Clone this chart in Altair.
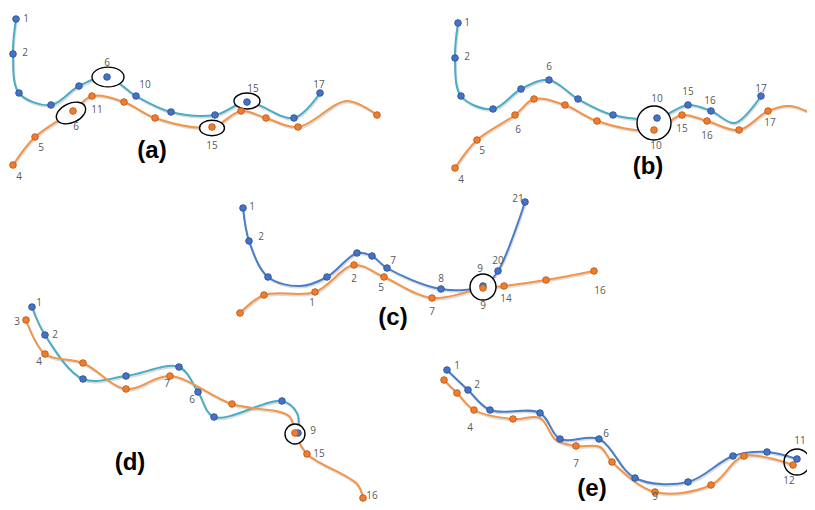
import altair as alt
import pandas as pd

# ---- data: (x, y, marker shown) in page pixels ----
A_BLUE = [(16,19,1),(13,54,1),(19,93,1),(51,105,1),(79,86,1),(107,77,1),(136,96,1),(171,112,1),(215,115,1),(247,102,1),(294,118,1),(320,93,1)]
A_ORANGE = [(13,165,1),(35,137,1),(73,111,1),(92,96,1),(124,102,1),(155,118,1),(212,127,1),(241,111,1),(266,118,1),(298,127,1),(347,101,0),(377,115,1)]
B_BLUE = [(458,23,1),(455,58,1),(461,96,1),(493,109,1),(521,89,1),(549,80,1),(578,99,1),(613,115,1),(657,118,1),(688,105,1),(711,111,1),(735,123,0),(761,96,1)]
B_ORANGE = [(455,168,1),(477,140,1),(515,115,1),(534,99,1),(565,105,1),(597,121,1),(654,130,1),(682,115,1),(707,121,1),(739,130,1),(768,111,1),(790,106,0),(820,118,0)]
C_BLUE = [(243,208,1),(249,241,1),(268,277,1),(300,286,0),(327,277,1),(357,253,1),(372,256,1),(387,268,1),(441,289,1),(483,286,1),(498,271,1),(525,202,1)]
C_ORANGE = [(240,313,1),(264,295,1),(315,292,1),(354,265,1),(384,277,1),(432,298,1),(483,288,1),(504,286,1),(546,280,1),(594,271,1)]
D_BLUE = [(32,307,1),(45,335,1),(83,379,1),(126,376,1),(179,367,1),(198,392,1),(214,417,1),(282,401,1),(297,413,0),(298,433,1)]
D_ORANGE = [(26,320,1),(45,354,1),(83,363,1),(126,389,1),(170,376,1),(232,404,1),(289,416,0),(295,433,1),(307,454,1),(357,484,0),(363,498,1)]
E_BLUE = [(447,370,1),(468,390,1),(490,410,1),(540,413,1),(560,439,1),(599,439,1),(635,478,1),(688,482,1),(733,456,1),(767,452,1),(797,459,1)]
E_ORANGE = [(444,380,1),(457,393,1),(474,410,1),(513,419,1),(540,418,0),(556,440,0),(576,446,1),(600,447,0),(612,462,1),(655,492,1),(711,485,1),(744,456,1),(793,465,1)]

SERIES = [
    ("a_blue", "teal", "blue", A_BLUE), ("a_orange", "orange", "orange", A_ORANGE),
    ("b_blue", "teal", "blue", B_BLUE), ("b_orange", "orange", "orange", B_ORANGE),
    ("c_blue", "steel", "blue", C_BLUE), ("c_orange", "orange", "orange", C_ORANGE),
    ("d_blue", "teal", "blue", D_BLUE), ("d_orange", "orange", "orange", D_ORANGE),
    ("e_blue", "steel", "blue", E_BLUE), ("e_orange", "orange", "orange", E_ORANGE),
]

# point labels: (x, y, text)
LABELS = [
    (26,19,"1"),(25,53,"2"),(107,63,"6"),(145,85,"10"),(253,89,"15"),(319,85,"17"),
    (19,177,"4"),(41,148,"5"),(76,127,"6"),(97,110,"11"),(212,146,"15"),
    (467,23,"1"),(467,57,"2"),(549,67,"6"),(657,99,"10"),(688,92,"15"),(710,101,"16"),(761,89,"17"),
    (461,180,"4"),(482,151,"5"),(518,130,"6"),(656,146,"10"),(682,129,"15"),(707,136,"16"),(770,123,"17"),
    (252,207,"1"),(261,237,"2"),(393,261,"7"),(441,279,"8"),(480,269,"9"),(498,261,"20"),(518,199,"21"),
    (312,303,"1"),(354,279,"2"),(381,288,"5"),(432,312,"7"),(483,306,"9"),(506,299,"14"),(600,291,"16"),
    (39,303,"1"),(55,335,"2"),(192,400,"6"),(313,431,"9"),
    (17,322,"3"),(39,362,"4"),(167,384,"7"),(319,454,"15"),(372,496,"16"),
    (457,366,"1"),(477,385,"2"),(606,434,"6"),(800,441,"11"),
    (470,428,"4"),(576,464,"7"),(789,481,"12"),(655,497,"9"),
]

# panel captions
PANELS = [(152,151,"(a)"),(648,167,"(b)"),(393,318,"(c)"),(130,463,"(d)"),(592,489,"(e)")]

# highlight circles: (x, y, diameter, filled)
CIRCLES = [(654,123,34,1),(483,287,26,1),(295,434,20,1),(797,462,26,0)]
# highlight ellipses: (x, y, major axis, angle)
ELLIPSES = [(108,77,32,0),(247,101,26,0),(212,128,25,0),(71,113,31,335)]

# ---- build tables ----
rows = []
for sid, lc, pc, pts in SERIES:
    for i, (x, y, m) in enumerate(pts):
        rows.append(dict(sid=sid, lc=lc, pc=pc, i=i, x=x, y=y, m=m))
df = pd.DataFrame(rows)
pts_df = df[df.m == 1]
lab_df = pd.DataFrame(LABELS, columns=["x", "y", "t"])
pan_df = pd.DataFrame(PANELS, columns=["x", "y", "t"])
cir_df = pd.DataFrame(CIRCLES, columns=["x", "y", "d", "f"])
cir_df["s"] = cir_df.d ** 2
ell_df = pd.DataFrame(ELLIPSES, columns=["x", "y", "d", "a"])
ell_df["s"] = ell_df.d ** 2

W, H = 799, 494
X = alt.X("x:Q", scale=alt.Scale(domain=[8, 8 + W]), axis=None)
Y = alt.Y("y:Q", scale=alt.Scale(domain=[8, 8 + H], reverse=True), axis=None)

line_color = alt.Color("lc:N", scale=alt.Scale(domain=["teal", "steel", "orange"],
                                               range=["#4BACC6", "#4A7EC8", "#F0954A"]), legend=None)

base = alt.Chart(df)
shadow = base.mark_line(interpolate="catmull-rom", strokeWidth=2.2, color="#9a9a9a",
                        opacity=0.35, yOffset=1.5, xOffset=0.8, clip=True).encode(
    x=X, y=Y, detail="sid:N", order="i:Q")
lines = base.mark_line(interpolate="catmull-rom", strokeWidth=2, clip=True).encode(
    x=X, y=Y, detail="sid:N", order="i:Q", color=line_color)

circ = alt.Chart(cir_df).mark_point(shape="circle", strokeWidth=1.4, stroke="black", opacity=1).encode(
    x=X, y=Y, size=alt.Size("s:Q", scale=None, legend=None),
    fill=alt.Fill("f:N", scale=alt.Scale(domain=[1, 0], range=["white", "transparent"]), legend=None))

ELL_PATH = "M -1 0 A 1 0.62 0 1 0 1 0 A 1 0.62 0 1 0 -1 0 Z"
ell = alt.Chart(ell_df).mark_point(shape=ELL_PATH, strokeWidth=1.4, stroke="black", fill="white",
                                   filled=False, opacity=1).encode(
    x=X, y=Y, size=alt.Size("s:Q", scale=None, legend=None),
    angle=alt.Angle("a:Q", scale=None))

dots = alt.Chart(pts_df).mark_point(shape="circle", filled=True, size=44, strokeWidth=0.9, opacity=1).encode(
    x=X, y=Y,
    fill=alt.Fill("pc:N", scale=alt.Scale(domain=["blue", "orange"], range=["#4472C4", "#ED7D31"]), legend=None),
    stroke=alt.Stroke("pc:N", scale=alt.Scale(domain=["blue", "orange"], range=["#2F5597", "#C55A11"]), legend=None))

labels = alt.Chart(lab_df).mark_text(font="Open Sans", fontSize=10, color="#595959",
                                     align="center", baseline="middle").encode(x=X, y=Y, text="t:N")
panels = alt.Chart(pan_df).mark_text(font="Liberation Sans", fontSize=24, fontWeight="bold", color="black",
                                     align="center", baseline="middle").encode(x=X, y=Y, text="t:N")

chart = alt.layer(shadow, lines, ell, circ, dots, labels, panels).resolve_scale(
    color="independent", fill="independent", stroke="independent", size="independent"
).properties(
    width=W, height=H, padding=0, autosize=alt.AutoSizeParams(type="none"),
    background="white"
).configure_view(stroke=None)

chart.save("out.html", embed_options={"renderer": "svg", "actions": False})
